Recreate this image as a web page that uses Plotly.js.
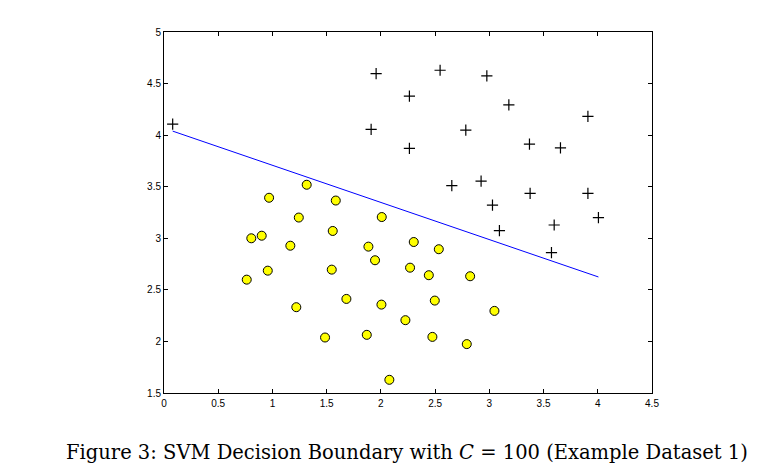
<!DOCTYPE html>
<html><head><meta charset="utf-8">
<script src="https://cdn.plot.ly/plotly-3.0.1.min.js"></script>
<style>html,body{margin:0;padding:0;background:#fff;}#chart{width:782px;height:476px;}</style>
</head><body><div id="chart"></div>
<script>
// Positive examples (+)
const posX = [0.080, 1.956, 2.546, 2.977, 2.263, 3.180, 3.909, 1.910, 2.783, 3.370, 3.656, 2.263, 2.654, 2.924, 3.376, 3.909, 3.029, 4.006, 3.093, 3.598, 3.573];
const posY = [4.107, 4.597, 4.629, 4.574, 4.378, 4.293, 4.181, 4.055, 4.048, 3.913, 3.877, 3.871, 3.511, 3.555, 3.436, 3.436, 3.322, 3.201, 3.074, 3.129, 2.861];
// Negative examples (yellow circles)
const negX = [1.316, 0.969, 1.584, 1.243, 2.008, 1.556, 0.805, 0.901, 1.165, 1.885, 1.946, 0.957, 1.547, 0.763, 2.269, 1.682, 1.220, 2.005, 2.226, 1.485, 1.870, 2.078, 2.303, 2.534, 2.442, 2.823, 2.497, 3.047, 2.475, 2.792];
const negY = [3.519, 3.393, 3.366, 3.201, 3.206, 3.071, 3.000, 3.025, 2.928, 2.919, 2.787, 2.686, 2.696, 2.599, 2.715, 2.412, 2.332, 2.357, 2.206, 2.038, 2.064, 1.628, 2.964, 2.894, 2.642, 2.632, 2.396, 2.296, 2.044, 1.974];
// Decision boundary
const lineX = [0.080, 4.006];
const lineY = [4.039, 2.625];
const xTicks = [0, 0.5, 1, 1.5, 2, 2.5, 3, 3.5, 4, 4.5];
const xTickText = ['0', '0.5', '1', '1.5', '2', '2.5', '3', '3.5', '4', '4.5'];
const yTicks = [1.5, 2, 2.5, 3, 3.5, 4, 4.5, 5];
const yTickText = ['1.5', '2', '2.5', '3', '3.5', '4', '4.5', '5'];
const caption = 'Figure 3: SVM Decision Boundary with <i>C</i> = 100 (Example Dataset 1)';

const traces = [
  {x: posX, y: posY, mode: 'markers', type: 'scatter',
   marker: {symbol: 'cross-thin', size: 8, color: '#000', line: {color: '#000', width: 1.2}}},
  {x: negX, y: negY, mode: 'markers', type: 'scatter',
   marker: {symbol: 'circle', size: 9, color: '#ffff00', line: {color: '#000', width: 1}}},
  {x: lineX, y: lineY, mode: 'lines', type: 'scatter', line: {color: '#0000ff', width: 1}}
];
const axCommon = {showgrid: false, zeroline: false, showline: true, linecolor: '#000', linewidth: 1,
  mirror: 'ticks', ticks: 'inside', ticklen: 4, tickcolor: '#000',
  tickfont: {family: 'Liberation Sans, Arial, sans-serif', size: 10, color: '#000'}};
const layout = {
  width: 782, height: 476, showlegend: false,
  paper_bgcolor: '#fff', plot_bgcolor: '#fff',
  margin: {l: 164, r: 130, t: 32, b: 83},
  xaxis: Object.assign({}, axCommon, {range: [0, 4.5], tickvals: xTicks, ticktext: xTickText, ticklabelstandoff: 1}),
  yaxis: Object.assign({}, axCommon, {range: [1.5, 5], tickvals: yTicks, ticktext: yTickText}),
  annotations: [{text: caption, xref: 'paper', yref: 'paper', x: 0.5, y: 0, xanchor: 'center', yanchor: 'middle',
    xshift: 407 - (164 + 244), yshift: -(452 - 393), showarrow: false,
    font: {family: 'DejaVu Serif, serif', size: 19.5, color: '#000'}}]
};
Plotly.newPlot('chart', traces, layout, {displayModeBar: false, staticPlot: true});
</script></body></html>
